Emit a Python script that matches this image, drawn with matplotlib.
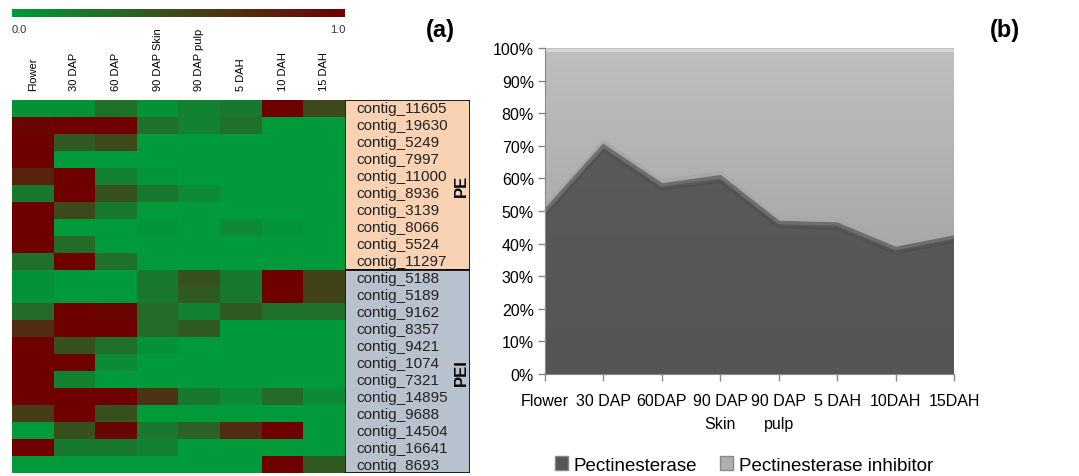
import numpy as np
import matplotlib
matplotlib.use('Agg')
import matplotlib.pyplot as plt
from matplotlib.colors import LinearSegmentedColormap
from matplotlib.patches import Rectangle, Patch

plt.rcParams['font.family'] = ['Liberation Sans', 'DejaVu Sans']

# heatmap data (a)
samples = ['Flower', '30 DAP', '60 DAP', '90 DAP Skin', '90 DAP pulp', '5 DAH', '10 DAH', '15 DAH']
contigs = ['contig_11605', 'contig_19630', 'contig_5249', 'contig_7997', 'contig_11000',
           'contig_8936', 'contig_3139', 'contig_8066', 'contig_5524', 'contig_11297',
           'contig_5188', 'contig_5189', 'contig_9162', 'contig_8357', 'contig_9421',
           'contig_1074', 'contig_7321', 'contig_14895', 'contig_9688', 'contig_14504',
           'contig_16641', 'contig_8693']
n_pe = 10
expr = [
    [0.05, 0.05, 0.25, 0.05, 0.15, 0.2, 1.0, 0.5],
    [0.95, 1.0, 1.0, 0.25, 0.15, 0.25, 0.0, 0.0],
    [1.0, 0.4, 0.5, 0.0, 0.0, 0.0, 0.0, 0.0],
    [1.0, 0.0, 0.0, 0.0, 0.0, 0.0, 0.0, 0.0],
    [0.75, 1.0, 0.15, 0.02, 0.0, 0.0, 0.0, 0.0],
    [0.2, 1.0, 0.45, 0.2, 0.1, 0.0, 0.0, 0.0],
    [1.0, 0.5, 0.2, 0.0, 0.0, 0.0, 0.0, 0.0],
    [1.0, 0.0, 0.0, 0.03, 0.0, 0.1, 0.03, 0.0],
    [1.0, 0.3, 0.0, 0.0, 0.0, 0.0, 0.0, 0.0],
    [0.25, 1.0, 0.25, 0.0, 0.0, 0.0, 0.0, 0.0],
    [0.05, 0.0, 0.0, 0.2, 0.45, 0.2, 1.0, 0.55],
    [0.05, 0.0, 0.0, 0.2, 0.4, 0.2, 1.0, 0.55],
    [0.3, 1.0, 0.95, 0.3, 0.15, 0.4, 0.25, 0.25],
    [0.7, 1.0, 1.0, 0.3, 0.4, 0.0, 0.0, 0.0],
    [1.0, 0.45, 0.25, 0.05, 0.0, 0.0, 0.0, 0.0],
    [1.0, 1.0, 0.1, 0.0, 0.0, 0.0, 0.0, 0.0],
    [1.0, 0.15, 0.0, 0.0, 0.0, 0.0, 0.0, 0.0],
    [1.0, 1.0, 1.0, 0.65, 0.2, 0.1, 0.3, 0.1],
    [0.6, 1.0, 0.45, 0.0, 0.0, 0.0, 0.0, 0.0],
    [0.0, 0.45, 0.95, 0.2, 0.35, 0.7, 1.0, 0.0],
    [1.0, 0.2, 0.2, 0.15, 0.0, 0.0, 0.0, 0.0],
    [0.0, 0.0, 0.0, 0.0, 0.0, 0.0, 1.0, 0.4],
]

# area chart data (b)
stages = ['Flower', '30 DAP', '60DAP', '90 DAP\nSkin', '90 DAP\npulp', '5 DAH', '10DAH', '15DAH']
pect = [50, 70, 58, 60.5, 46.5, 46, 38.5, 42]

W, H = 1079, 477
fig = plt.figure(figsize=(W / 100, H / 100), dpi=100)

def px(x0, y0, x1, y1):
    return [x0 / W, 1 - y1 / H, (x1 - x0) / W, (y1 - y0) / H]

cmap = LinearSegmentedColormap.from_list('gr', ['#009a3a', '#3e4a1c', '#6e0000'])

# heatmap
ax = fig.add_axes(px(12, 101, 345, 474))
ax.imshow(np.array(expr), cmap=cmap, vmin=0, vmax=1, aspect='auto', interpolation='nearest')
ax.set_xticks(range(len(samples)))
ax.set_xticklabels(samples, rotation=90, fontsize=8)
ax.xaxis.tick_top()
ax.tick_params(length=0, pad=7)
ax.set_yticks([])
for s in ax.spines.values():
    s.set_visible(False)

# colorbar
cax = fig.add_axes(px(12, 10, 345, 18))
cax.imshow(np.linspace(0, 1, 256)[None, :], cmap=cmap, aspect='auto')
cax.set_xticks([]); cax.set_yticks([])
for s in cax.spines.values():
    s.set_visible(False)
fig.text(12 / W, 1 - 30 / H, '0.0', fontsize=8, va='center', ha='left', color='#333333')
fig.text(345 / W, 1 - 30 / H, '1.0', fontsize=8, va='center', ha='right', color='#333333')

# label box
lax = fig.add_axes(px(345, 101, 470, 474))
lax.set_xlim(0, 1)
lax.set_ylim(len(contigs), 0)
lax.add_patch(Rectangle((0, 0), 1, n_pe, facecolor='#f8d2b3', edgecolor='black', lw=1.2))
lax.add_patch(Rectangle((0, n_pe), 1, len(contigs) - n_pe, facecolor='#b8c2cf', edgecolor='black', lw=1.2))
for i, c in enumerate(contigs):
    lax.text(0.09, i + 0.5, c, fontsize=11, va='center', ha='left', color='#222222')
lax.text(0.93, n_pe / 2, 'PE', rotation=90, fontsize=12, fontweight='bold', ha='center', va='center')
lax.text(0.93, (n_pe + len(contigs)) / 2, 'PEI', rotation=90, fontsize=12, fontweight='bold', ha='center', va='center')
lax.axis('off')

fig.text(440 / W, 1 - 30 / H, '(a)', fontsize=17, fontweight='bold', ha='center', va='center')
fig.text(1005 / W, 1 - 30 / H, '(b)', fontsize=17, fontweight='bold', ha='center', va='center')

# area chart
bx = fig.add_axes(px(545, 49, 954, 375))
x = np.arange(len(stages))
pect = np.array(pect)
top = bx.fill_between(x, pect, 100, facecolor='#b0b0b0', edgecolor='none')
bot = bx.fill_between(x, 0, pect, facecolor='#5a5a5a', edgecolor='none')
g = np.linspace(0, 1, 200)[:, None]
im1 = bx.imshow(g, extent=(0, 7, 0, 100), cmap=LinearSegmentedColormap.from_list('t', ['#bfbfbf', '#9a9a9a']),
                aspect='auto', origin='upper', zorder=1)
im1.set_clip_path(top.get_paths()[0], transform=bx.transData)
im2 = bx.imshow(g, extent=(0, 7, 0, 100), cmap=LinearSegmentedColormap.from_list('b', ['#5c5c5c', '#555555']),
                aspect='auto', origin='upper', zorder=1)
im2.set_clip_path(bot.get_paths()[0], transform=bx.transData)
bx.plot(x, pect + 1.2, color='#a8a8a8', lw=2.5, zorder=2)
bx.plot(x, pect, color='#6e6e6e', lw=2.5, zorder=2)
bx.plot(x, pect - 1.5, color='#4c4c4c', lw=1.5, zorder=2, alpha=0.6)
bx.plot([0, 7], [99.5, 99.5], color='#d8d8d8', lw=2, zorder=2)
bx.set_xlim(0, 7)
bx.set_ylim(0, 100)
bx.set_yticks(range(0, 101, 10))
bx.set_yticklabels([f'{v}%' for v in range(0, 101, 10)], fontsize=11.5)
bx.set_xticks(x)
bx.set_xticklabels(stages, fontsize=11.5, linespacing=1.6)
bx.tick_params(color='#888888', length=5, width=1)
bx.tick_params(axis='x', pad=9)
bx.tick_params(axis='y', pad=3)
for k in ['top', 'right']:
    bx.spines[k].set_visible(False)
for k in ['left', 'bottom']:
    bx.spines[k].set_color('#888888')

handles = [Patch(facecolor='#555555', edgecolor='#888888', label='Pectinesterase'),
           Patch(facecolor='#b0b0b0', edgecolor='#888888', label='Pectinesterase inhibitor')]
fig.legend(handles=handles, loc='center', bbox_to_anchor=(744 / W, 1 - 466 / H), ncol=2,
           frameon=False, fontsize=13.5, handlelength=0.7, handleheight=0.7,
           handletextpad=0.3, columnspacing=1.2)

fig.savefig('out.png', dpi=100)
